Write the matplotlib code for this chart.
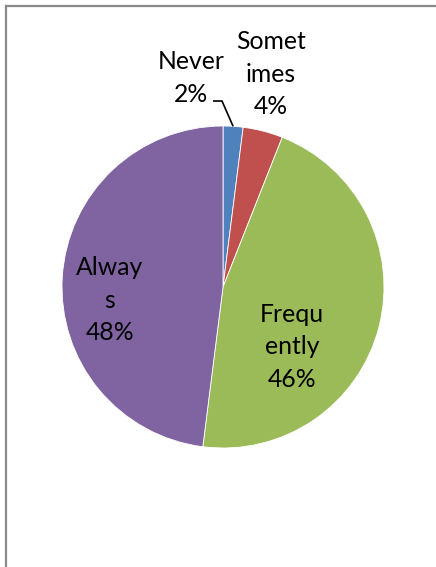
import numpy as np
import matplotlib
matplotlib.use("Agg")
import matplotlib.pyplot as plt
from matplotlib.lines import Line2D

categories = ["Never", "Sometimes", "Frequently", "Always"]
shares = [2, 4, 46, 48]
label_lines = ["Never\n2%", "Somet\nimes\n4%", "Frequ\nently\n46%", "Alway\ns\n48%"]
colors = ["#4F81BD", "#C0504D", "#9BBB59", "#8064A2"]

W, H = 436, 567
fig = plt.figure(figsize=(W / 100, H / 100), dpi=100)
fig.patch.set_facecolor("white")
ax = fig.add_axes([0, 0, 1, 1])

cx, cy, r = 223, H - 287, 161
wedges, _ = ax.pie(shares, colors=colors, startangle=90, counterclock=False,
                   center=(cx, cy), radius=r, frame=True,
                   wedgeprops=dict(edgecolor="white", linewidth=0.6))
ax.set_xlim(0, W)
ax.set_ylim(0, H)
ax.set_aspect("equal")
ax.axis("off")

font = dict(family="Lato", fontsize=17.8, color="black", ha="center",
            va="center", linespacing=1.48)

# label centres (pixels from top-left)
label_pos = [(191, 78), (271, 74), (292, 347), (110, 300)]
for txt, (x, y) in zip(label_lines, label_pos):
    ax.text(x, H - y, txt, **font)

# leader line for the small "Never" slice, ending at the slice's mid-angle on the rim
theta0 = 90.0
frac = shares[0] / sum(shares)
mid = np.deg2rad(theta0 - 360 * frac / 2)
ex, ey = cx + r * np.cos(mid), cy + r * np.sin(mid)
ax.plot([213, 222, ex], [H - 101, H - 101, ey], color="black", lw=1.2,
        solid_capstyle="butt", zorder=5)

# chart area border (top and left edges visible)
fig.add_artist(Line2D([5.5 / W, 1], [1 - 5.5 / H, 1 - 5.5 / H],
                      transform=fig.transFigure, color="#8a8a8a", lw=1.6))
fig.add_artist(Line2D([5.5 / W, 5.5 / W], [0, 1 - 5.5 / H],
                      transform=fig.transFigure, color="#8a8a8a", lw=1.6))

fig.savefig("out.png", dpi=100, facecolor="white")
